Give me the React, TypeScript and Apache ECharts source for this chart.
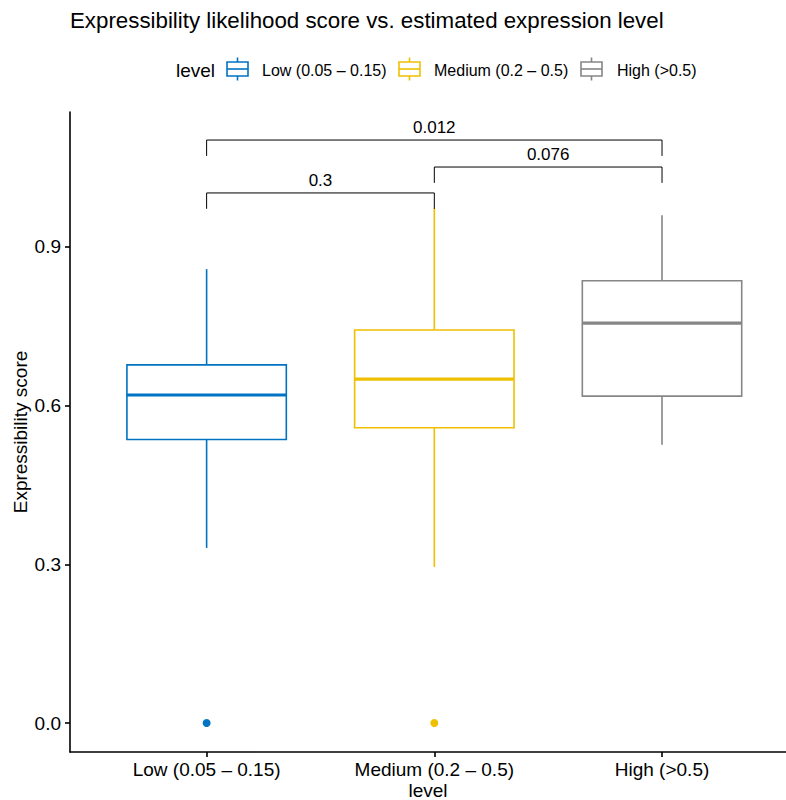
import React, { useEffect, useRef } from "react";
import * as echarts from "echarts";

const categories = ["Low (0.05 – 0.15)", "Medium (0.2 – 0.5)", "High (>0.5)"];
const colors = ["#0073C2", "#EFC000", "#868686"];
const whiskerLow = [0.331, 0.295, 0.526];
const q1 = [0.536, 0.558, 0.618];
const median = [0.62, 0.65, 0.756];
const q3 = [0.677, 0.743, 0.836];
const whiskerHigh = [0.858, 0.974, 0.96];
const outlierCategory = [0, 1];
const outlierValues = [0.0, 0.0];
const yTicks = [0, 0.3, 0.6, 0.9];
const comparisonFrom = [0, 1, 0];
const comparisonTo = [1, 2, 2];
const comparisonY = [1.002, 1.051, 1.102];
const comparisonLabels = ["0.3", "0.076", "0.012"];

const FONT = "'Liberation Sans', Arial, Helvetica, sans-serif";

export default function App() {
  const ref = useRef<HTMLDivElement>(null);
  useEffect(() => {
    if (!ref.current) return;
    const chart = echarts.init(ref.current, undefined, { renderer: "svg" });

    const boxData = categories.map((_, i) => [
      i + 1,
      whiskerLow[i],
      q1[i],
      median[i],
      q3[i],
      whiskerHigh[i],
      i,
    ]);
    const bracketData = comparisonLabels.map((_, i) => [
      comparisonFrom[i] + 1,
      comparisonTo[i] + 1,
      comparisonY[i],
      i,
    ]);

    const legendKeyX = [227, 399, 581];
    const legendTextX = [262, 434, 617];
    const legendGraphics: any[] = [
      {
        type: "text",
        x: 176,
        y: 70,
        style: { text: "level", font: `19px ${FONT}`, fill: "#000", verticalAlign: "middle" },
      },
    ];
    categories.forEach((c, i) => {
      const kx = legendKeyX[i];
      const col = colors[i];
      legendGraphics.push(
        { type: "line", shape: { x1: kx + 10.5, y1: 57.5, x2: kx + 10.5, y2: 62 }, style: { stroke: col, lineWidth: 1.6 } },
        { type: "line", shape: { x1: kx + 10.5, y1: 76, x2: kx + 10.5, y2: 80.5 }, style: { stroke: col, lineWidth: 1.6 } },
        { type: "rect", shape: { x: kx, y: 62, width: 21, height: 14 }, style: { fill: "#fff", stroke: col, lineWidth: 1.6 } },
        { type: "line", shape: { x1: kx, y1: 69, x2: kx + 21, y2: 69 }, style: { stroke: col, lineWidth: 1.6 } },
        {
          type: "text",
          x: legendTextX[i],
          y: 70,
          style: { text: c, font: `16px ${FONT}`, fill: "#000", verticalAlign: "middle" },
        }
      );
    });

    chart.setOption({
      animation: false,
      textStyle: { fontFamily: FONT },
      title: {
        text: "Expressibility likelihood score vs. estimated expression level",
        left: 70,
        top: 9,
        padding: 0,
        textStyle: { fontSize: 22.3, fontWeight: "normal", color: "#000", fontFamily: FONT },
      },
      graphic: legendGraphics,
      grid: { left: 70, top: 112, right: 0, bottom: 48, containLabel: false, outerBoundsMode: "none" },
      xAxis: {
        type: "value",
        min: 0.4,
        max: 3.5445,
        name: "level",
        nameLocation: "middle",
        nameGap: 29,
        nameMoveOverlap: false,
        nameTextStyle: { fontSize: 19, lineHeight: 19, color: "#000", fontFamily: FONT },
        axisLine: { show: true, onZero: false, lineStyle: { color: "#000", width: 1.6 } },
        axisTick: { show: true, length: 5, customValues: [1, 2, 3], lineStyle: { color: "#000", width: 1.6 } },
        axisLabel: {
          customValues: [1, 2, 3],
          margin: 8,
          fontSize: 19,
          color: "#000",
          fontFamily: FONT,
          formatter: (v: number) => categories[Math.round(v) - 1] ?? "",
        },
        splitLine: { show: false },
      },
      yAxis: {
        type: "value",
        min: -0.0548,
        max: 1.155,
        name: "Expressibility score",
        nameLocation: "middle",
        nameGap: 40,
        nameMoveOverlap: false,
        nameTextStyle: { fontSize: 19, color: "#000", fontFamily: FONT },
        axisLine: { show: true, onZero: false, lineStyle: { color: "#000", width: 1.6 } },
        axisTick: { show: true, length: 5, customValues: yTicks, lineStyle: { color: "#000", width: 1.6 } },
        axisLabel: {
          customValues: yTicks,
          margin: 9,
          fontSize: 19,
          color: "#000",
          fontFamily: FONT,
          formatter: (v: number) => v.toFixed(1),
        },
        splitLine: { show: false },
      },
      series: [
        {
          type: "custom",
          name: "boxes",
          data: boxData,
          encode: { x: 0, y: [1, 2, 3, 4, 5] },
          clip: false,
          renderItem: (params: any, api: any) => {
            const x = api.value(0);
            const idx = api.value(6);
            const half = 0.35;
            const col = colors[idx];
            const pTL = api.coord([x - half, api.value(4)]);
            const pBR = api.coord([x + half, api.value(2)]);
            const pMed = api.coord([x, api.value(3)]);
            const pWl = api.coord([x, api.value(1)]);
            const pWh = api.coord([x, api.value(5)]);
            return {
              type: "group",
              children: [
                { type: "line", shape: { x1: pWh[0], y1: pWh[1], x2: pWh[0], y2: pTL[1] }, style: { stroke: col, lineWidth: 1.6 } },
                { type: "line", shape: { x1: pWl[0], y1: pBR[1], x2: pWl[0], y2: pWl[1] }, style: { stroke: col, lineWidth: 1.6 } },
                {
                  type: "rect",
                  shape: { x: pTL[0], y: pTL[1], width: pBR[0] - pTL[0], height: pBR[1] - pTL[1] },
                  style: { fill: "#fff", stroke: col, lineWidth: 1.6 },
                },
                { type: "line", shape: { x1: pTL[0], y1: pMed[1], x2: pBR[0], y2: pMed[1] }, style: { stroke: col, lineWidth: 3.2 } },
              ],
            };
          },
        },
        {
          type: "scatter",
          name: "outliers",
          data: outlierValues.map((v, i) => ({
            value: [outlierCategory[i] + 1, v],
            itemStyle: { color: colors[outlierCategory[i]], opacity: 1 },
          })),
          symbol: "circle",
          symbolSize: 8,
        },
        {
          type: "custom",
          name: "brackets",
          data: bracketData,
          encode: { x: [0, 1], y: 2 },
          clip: false,
          renderItem: (params: any, api: any) => {
            const a = api.coord([api.value(0), api.value(2)]);
            const b = api.coord([api.value(1), api.value(2)]);
            const drop = api.coord([api.value(0), api.value(2) - 0.03]);
            const li = api.value(3);
            const st = { stroke: "#000", lineWidth: 1 };
            return {
              type: "group",
              children: [
                { type: "line", shape: { x1: a[0], y1: a[1], x2: b[0], y2: a[1] }, style: st },
                { type: "line", shape: { x1: a[0], y1: a[1], x2: a[0], y2: drop[1] }, style: st },
                { type: "line", shape: { x1: b[0], y1: a[1], x2: b[0], y2: drop[1] }, style: st },
                {
                  type: "text",
                  style: {
                    text: comparisonLabels[li],
                    x: (a[0] + b[0]) / 2,
                    y: a[1] - 12.5,
                    align: "center",
                    verticalAlign: "middle",
                    font: `17px ${FONT}`,
                    fill: "#000",
                  },
                },
              ],
            };
          },
        },
      ],
    });
    return () => chart.dispose();
  }, []);
  return (
    <div
      ref={ref}
      style={{ position: "fixed", left: 0, top: 0, width: 786, height: 800, background: "#fff" }}
    />
  );
}
